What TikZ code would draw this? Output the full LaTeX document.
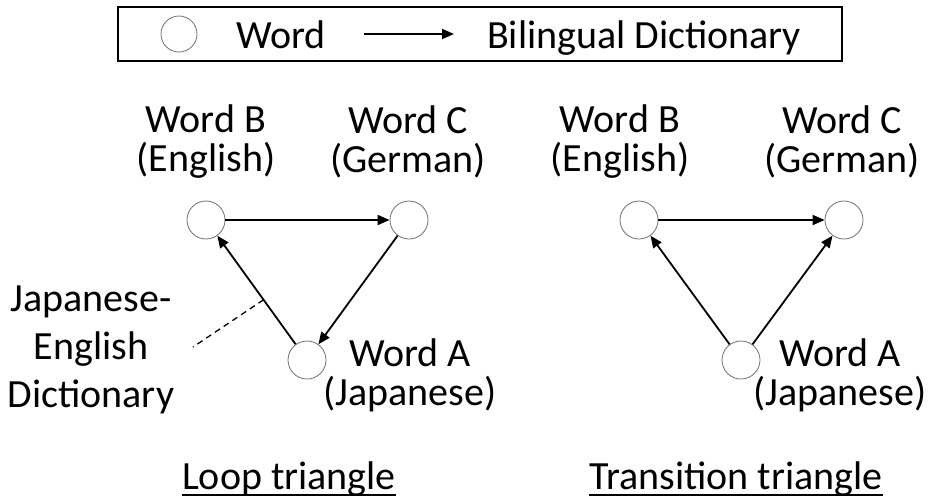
\documentclass[tikz,border=0pt]{standalone}
\usepackage{fontspec}
\setmainfont{Carlito}
\usetikzlibrary{arrows.meta}
\definecolor{wordline}{HTML}{707070}
\definecolor{darkline}{HTML}{000000}
\tikzset{
  word/.style={circle, draw=wordline, line width=0.8pt, fill=white, minimum size=38pt, inner sep=0pt},
  label/.style={align=center, inner sep=0pt, font=\fontsize{40}{39}\selectfont},
  caption/.style={inner sep=0pt, anchor=base, font=\fontsize{40}{39}\selectfont},
  dict/.style={-{Triangle[length=12pt, width=10pt]}, line width=1.8pt, draw=darkline},
  leader/.style={dashed, dash pattern=on 6pt off 4.5pt, line width=1.3pt, draw=darkline}
}

\begin{document}
\begin{tikzpicture}[x=1pt, y=-1pt]
\useasboundingbox (0,0) rectangle (929,499);

% Legend.
\node[draw=darkline, line width=2pt, minimum width=724pt, minimum height=54pt, inner sep=0pt] (legend) at (480,34) {};
\node[word, minimum size=36pt] (legword) at (179,34) {};
\node[caption, anchor=base west] (legwordtxt) at (236,48) {Word};
\coordinate (legfrom) at (364,34);
\coordinate (legto) at (454,34);
\node[caption, anchor=base west] (legdict) at (487,48) {Bilingual Dictionary};
\draw[dict] (legfrom) -- (legto);

% Loop triangle.
\node[word] (lb) at (206,220) {};
\node[word] (lc) at (409,220) {};
\node[word] (la) at (307,360) {};
\node[label] (lbtxt) at (206,142) {Word B\\(English)};
\node[label] (lctxt) at (408,142) {Word C\\(German)};
\node[label] (latxt) at (410,375) {Word A\\(Japanese)};
\node[label, font=\fontsize{40}{48}\selectfont] (ldtxt) at (91,350) {Japanese-\\English\\Dictionary};

\draw[dict] (lb) -- (lc);
\draw[dict] (lc) -- (la);
\draw[dict] (la) -- coordinate[pos=0.41] (lead) (lb);
\coordinate (leadend) at (193,347);
\draw[leader] (lead) -- (leadend);

\node[caption] (loopcap) at (289,489) {Loop triangle};
\draw[line width=2.5pt] ([yshift=-6pt]loopcap.base west) -- ([yshift=-6pt]loopcap.base east);

% Transition triangle.
\node[word] (rb) at (639,220) {};
\node[word] (rc) at (844,220) {};
\node[word] (ra) at (741,360) {};
\node[label] (rbtxt) at (620,142) {Word B\\(English)};
\node[label] (rctxt) at (842,142) {Word C\\(German)};
\node[label] (ratxt) at (840,375) {Word A\\(Japanese)};

\draw[dict] (rb) -- (rc);
\draw[dict] (ra) -- (rb);
\draw[dict] (ra) -- (rc);

\node[caption] (transcap) at (736,489) {Transition triangle};
\draw[line width=2.5pt] ([yshift=-6pt]transcap.base west) -- ([yshift=-6pt]transcap.base east);

\end{tikzpicture}
\end{document}
